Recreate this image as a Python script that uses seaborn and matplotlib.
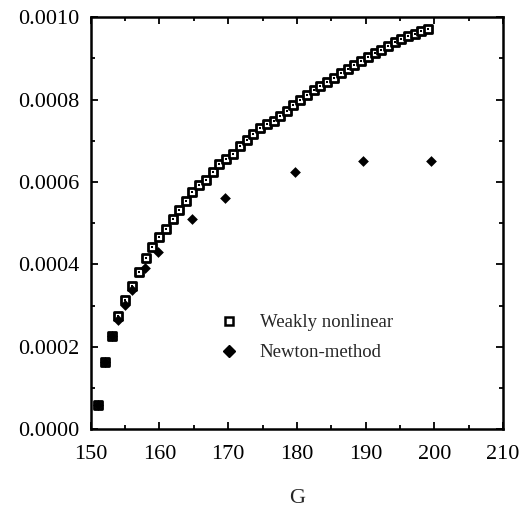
import numpy as np
import pandas as pd
import matplotlib
matplotlib.use("Agg")
import matplotlib.pyplot as plt
from matplotlib.ticker import MultipleLocator, FormatStrFormatter
from matplotlib.lines import Line2D
import seaborn as sns

# ---- data ----
g_weak = [151.1, 152.1, 153.1, 154.0, 155.0, 156.0, 157.0, 158.0, 158.9, 159.9,
          160.9, 161.9, 162.9, 163.8, 164.8, 165.8, 166.8, 167.8, 168.7, 169.7,
          170.7, 171.7, 172.7, 173.6, 174.6, 175.6, 176.6, 177.6, 178.5, 179.5,
          180.5, 181.5, 182.5, 183.4, 184.4, 185.4, 186.4, 187.4, 188.3, 189.3,
          190.3, 191.3, 192.3, 193.2, 194.2, 195.2, 196.2, 197.2, 198.1, 199.1]
a_weak = [0.000058, 0.000163, 0.000226, 0.000274, 0.000313, 0.000347, 0.000382, 0.000415, 0.000442, 0.000466,
          0.000487, 0.000510, 0.000533, 0.000553, 0.000575, 0.000592, 0.000606, 0.000625, 0.000643, 0.000655,
          0.000669, 0.000688, 0.000701, 0.000716, 0.000730, 0.000740, 0.000748, 0.000760, 0.000773, 0.000786,
          0.000798, 0.000811, 0.000823, 0.000833, 0.000842, 0.000852, 0.000864, 0.000874, 0.000884, 0.000894,
          0.000903, 0.000912, 0.000921, 0.000930, 0.000939, 0.000947, 0.000954, 0.000960, 0.000966, 0.000972]

g_newton = [151.1, 152.1, 153.1, 154.0, 155.0, 156.0, 157.9, 159.8, 164.7, 169.6, 179.7, 189.6, 199.5]
a_newton = [0.000058, 0.000163, 0.000226, 0.000265, 0.000302, 0.000337, 0.000391, 0.000430,
            0.000510, 0.000561, 0.000625, 0.000650, 0.000651]

labels = ["Weakly nonlinear", "Newton-method"]
x_label = "G"
x_ticks = [150, 160, 170, 180, 190, 200, 210]
y_ticks = [0.0, 0.0002, 0.0004, 0.0006, 0.0008, 0.0010]

df_w = pd.DataFrame({"G": g_weak, "A": a_weak})
df_n = pd.DataFrame({"G": g_newton, "A": a_newton})

sns.set_theme(style="ticks")
plt.rcParams["font.family"] = ["Liberation Serif", "DejaVu Serif"]

fig = plt.figure(figsize=(5.22, 5.12), dpi=100)
ax = fig.add_axes([0.1738, 0.1615, 0.79, 0.805])

sns.scatterplot(data=df_w, x="G", y="A", marker="s", s=28, facecolor="white",
                edgecolor="black", linewidth=2.0, ax=ax, zorder=3)
sns.scatterplot(data=df_w, x="G", y="A", marker="s", s=2.5, color="black",
                linewidth=0, ax=ax, zorder=4)
sns.scatterplot(data=df_n, x="G", y="A", marker="D", s=30, color="black",
                linewidth=0, ax=ax, zorder=5)

ax.set_xlim(x_ticks[0], x_ticks[-1])
ax.set_ylim(y_ticks[0], y_ticks[-1])
ax.set_xticks(x_ticks)
ax.set_yticks(y_ticks)
ax.xaxis.set_minor_locator(MultipleLocator(5))
ax.yaxis.set_minor_locator(MultipleLocator(0.0001))
ax.yaxis.set_major_formatter(FormatStrFormatter("%.4f"))
ax.tick_params(which="both", direction="in", top=True, right=True, width=1.3, colors="black")
ax.tick_params(which="major", length=5, labelsize=16)
ax.tick_params(which="minor", length=3)
ax.tick_params(axis="x", which="major", pad=11)
ax.tick_params(axis="y", which="major", pad=8)
for sp in ax.spines.values():
    sp.set_linewidth(1.8)
    sp.set_color("black")

ax.set_xlabel(x_label, fontsize=16, labelpad=18)
ax.set_ylabel("")

h1 = Line2D([], [], marker="s", linestyle="none", markersize=6.0, markerfacecolor="white",
            markeredgecolor="black", markeredgewidth=1.8)
h2 = Line2D([], [], marker="D", linestyle="none", markersize=6.5, color="black")
ax.legend([h1, h2], labels, loc="upper left", bbox_to_anchor=(0.26, 0.32), frameon=False,
          fontsize=13.5, handletextpad=0.9, labelspacing=0.68, handlelength=1.5)

fig.savefig("out.png", dpi=100)
